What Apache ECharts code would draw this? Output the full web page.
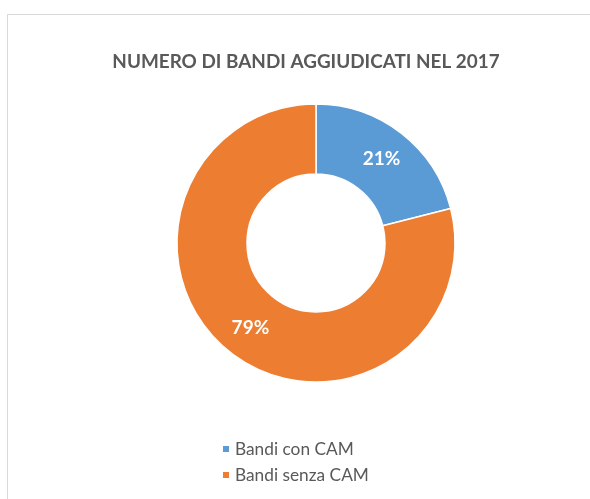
<!DOCTYPE html>
<html><head><meta charset="utf-8">
<script src="https://cdn.jsdelivr.net/npm/echarts@6/dist/echarts.min.js"></script>
<style>html,body{margin:0;padding:0;background:#fff}#c{width:590px;height:499px}</style>
</head><body><div id="c"></div>
<script>
const titleText = 'NUMERO DI BANDI AGGIUDICATI NEL 2017';
const categories = ['Bandi con CAM', 'Bandi senza CAM'];
const values = [21, 79];
const colors = ['#5B9BD5', '#ED7D31'];

const chart = echarts.init(document.getElementById('c'), null, {renderer: 'canvas'});
chart.setOption({
  animation: false,
  graphic: [{
    type: 'polyline', silent: true,
    shape: {points: [[7.5, 520], [7.5, 14.5], [600, 14.5]]},
    style: {stroke: '#d9d9d9', lineWidth: 1, fill: null}
  }],
  title: {
    text: titleText, left: 301, top: 47, textAlign: 'center',
    textStyle: {fontFamily: 'Lato', fontWeight: 'bold', fontSize: 18.9, color: '#595959'}
  },
  legend: {
    orient: 'vertical', left: 216, top: 434, itemGap: 6, itemWidth: 8, itemHeight: 8, icon: 'rect',
    textStyle: {fontFamily: 'Lato', fontSize: 17.3, color: '#595959', lineHeight: 20},
    data: categories
  },
  series: [{
    type: 'pie', center: [316, 243], radius: [69, 139],
    startAngle: 90, clockwise: true,
    itemStyle: {borderColor: '#fff', borderWidth: 1.5},
    label: {show: true, position: 'inside', formatter: '{c}%',
      fontFamily: 'Lato', fontWeight: 'bold', fontSize: 19, color: '#fff'},
    labelLine: {show: false},
    emphasis: {disabled: true},
    data: categories.map((n, i) => ({name: n, value: values[i], itemStyle: {color: colors[i]}}))
  }]
});
</script></body></html>
